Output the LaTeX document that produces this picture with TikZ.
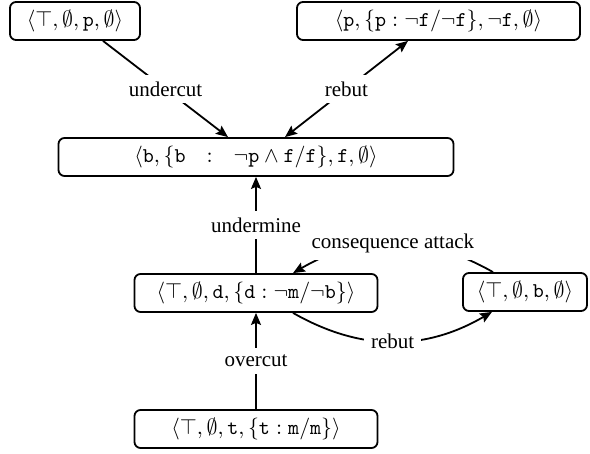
\documentclass[tikz,border=0pt]{standalone}
\usepackage{fontspec}
\setmainfont{Liberation Serif}
\usetikzlibrary{calc,arrows.meta}
\tikzset{
    box/.style ={
        rectangle,
        rounded corners =3pt,
        minimum height =19pt,
        inner sep=3pt,
        draw=black,
        line width=0.9pt
    },
    attack/.style ={
        fill=white,
        inner sep=3.5pt
    }
}
\begin{document}
\begin{tikzpicture}[x=0.5pt,y=-0.5pt,>={Stealth[length=6pt,width=5pt,inset=1pt]},font=\fontsize{10.5}{12.6}\selectfont]
    \useasboundingbox (0,0) rectangle (590,454);

        \node[box,minimum width=65pt] (ARGP) at(75,21) {$\langle\top,\emptyset,\mathtt{p},\emptyset\rangle$};
        \node[box,minimum width=141.5pt] (ARGQ) at(438.5,21) {$\langle\mathtt{p},\{\mathtt{p}\mathrel{:}\neg\mathtt{f}/\neg\mathtt{f}\},\neg\mathtt{f},\emptyset\rangle$};
        \node[box,minimum width=197.5pt] (ARGB) at(256,157) {$\langle\mathtt{b},\{\mathtt{b}\quad{:}\quad\neg\mathtt{p}\wedge\mathtt{f}/\mathtt{f}\},\mathtt{f},\emptyset\rangle$};
        \node[box,minimum width=121.5pt] (ARGD) at(256,293) {$\langle\top,\emptyset,\mathtt{d},\{\mathtt{d}\mathrel{:}\neg\mathtt{m}/\neg\mathtt{b}\}\rangle$};
        \node[box,minimum width=62pt] (ARGR) at(525,292) {$\langle\top,\emptyset,\mathtt{b},\emptyset\rangle$};
        \node[box,minimum width=121.5pt] (ARGT) at(256,429) {$\langle\top,\emptyset,\mathtt{t},\{\mathtt{t}\mathrel{:}\mathtt{m}/\mathtt{m}\}\rangle$};

        \draw[->,line width=0.9pt] ($(ARGP.south)+(28,0)$) -- node[attack]{undercut} ($(ARGB.north)+(-28,0)$);
        \draw[<->,line width=0.9pt] ($(ARGQ.south)+(-30.5,0)$) -- node[attack]{rebut} ($(ARGB.north)+(29,0)$);
        \draw[->,line width=0.9pt] (ARGD) -- node[attack]{undermine} (ARGB);
        \draw[->,line width=0.9pt] (ARGT) -- node[attack]{overcut} (ARGD);
        \draw[->,line width=0.9pt] ($(ARGR.north)+(-32,0)$) to[bend right=30] node[attack]{consequence attack} ($(ARGD.north)+(37,0)$);
        \draw[->,line width=0.9pt] ($(ARGD.south)+(37,0)$) to[bend right=30] node[attack]{rebut} ($(ARGR.south)+(-33,0)$);
    \end{tikzpicture}
\end{document}
